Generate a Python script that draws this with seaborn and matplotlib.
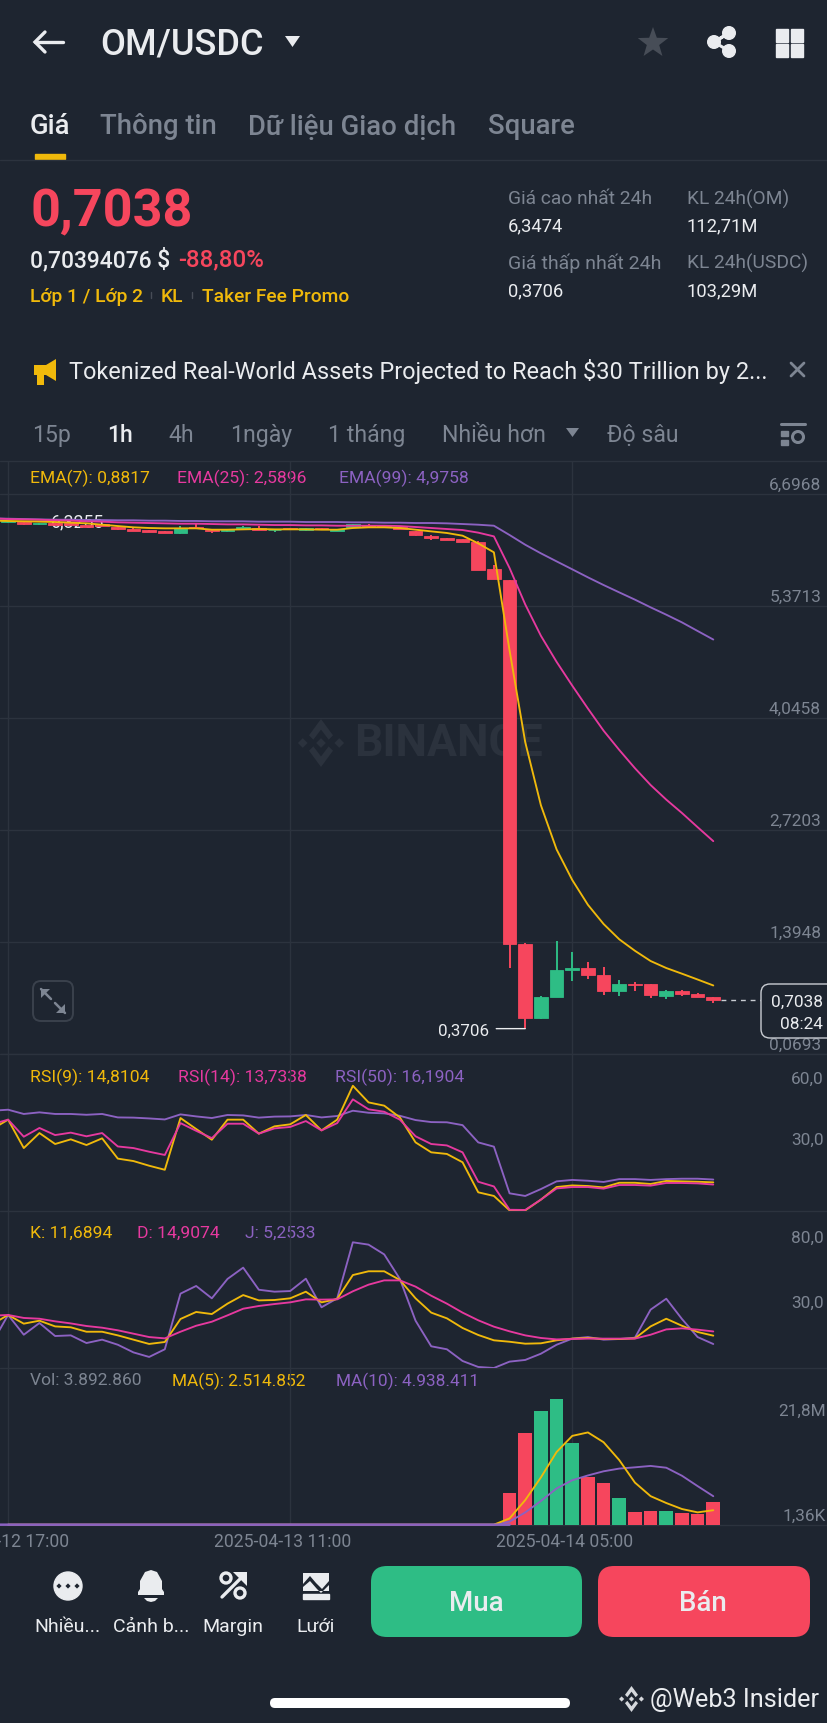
import numpy as np
import seaborn as sns
import matplotlib
matplotlib.use("Agg")
import matplotlib.pyplot as plt
from matplotlib.patches import FancyBboxPatch, Polygon, Circle, Rectangle

# hour index, -1 is the candle just off the left edge
hours = np.arange(-1, 46)
candle_hours = np.arange(0, 46)

opens = [6.363, 6.363, 6.339, 6.355, 6.355, 6.331, 6.339, 6.308, 6.280, 6.268, 6.260, 6.233, 6.308, 6.276, 6.256, 6.284,
         6.292, 6.268, 6.292, 6.268, 6.292, 6.260, 6.312, 6.335, 6.319, 6.304, 6.260, 6.197, 6.174, 6.166, 6.127, 5.811,
         5.684, 1.372, 0.497, 0.745, 1.061, 1.092, 1.005, 0.816, 0.902, 0.895, 0.760, 0.816, 0.784, 0.742]
closes = [6.379, 6.339, 6.355, 6.331, 6.331, 6.308, 6.323, 6.280, 6.264, 6.252, 6.241, 6.292, 6.292, 6.256, 6.276, 6.308,
          6.276, 6.276, 6.284, 6.292, 6.280, 6.284, 6.339, 6.304, 6.308, 6.284, 6.213, 6.174, 6.157, 6.133, 5.802, 5.689,
          1.372, 0.497, 0.745, 1.061, 1.088, 1.009, 0.816, 0.902, 0.887, 0.765, 0.820, 0.784, 0.749, 0.7038]
highs = [6.383, 6.367, 6.359, 6.359, 6.359, 6.335, 6.343, 6.312, 6.300, 6.272, 6.264, 6.323, 6.343, 6.280, 6.280, 6.315,
         6.315, 6.280, 6.296, 6.296, 6.296, 6.288, 6.343, 6.343, 6.327, 6.308, 6.265, 6.216, 6.180, 6.170, 6.140, 5.862,
         5.684, 1.388, 0.755, 1.408, 1.278, 1.156, 1.100, 0.946, 0.919, 0.902, 0.828, 0.831, 0.790, 0.749]
lows = [6.360, 6.335, 6.335, 6.327, 6.327, 6.304, 6.319, 6.276, 6.257, 6.248, 6.237, 6.229, 6.288, 6.237, 6.252, 6.280,
        6.272, 6.244, 6.280, 6.264, 6.276, 6.256, 6.308, 6.300, 6.304, 6.280, 6.205, 6.157, 6.150, 6.125, 5.800, 5.689,
        1.085, 0.3706, 0.490, 0.740, 0.938, 0.958, 0.769, 0.760, 0.820, 0.730, 0.721, 0.760, 0.740, 0.674]

ema7 = [6.383, 6.379, 6.375, 6.371, 6.367, 6.359, 6.351, 6.335, 6.319, 6.304, 6.296, 6.292, 6.292, 6.292, 6.276, 6.276,
        6.280, 6.284, 6.280, 6.280, 6.280, 6.276, 6.276, 6.296, 6.304, 6.304, 6.296, 6.276, 6.256, 6.237, 6.205, 6.114,
        6.008, 4.847, 3.761, 3.014, 2.492, 2.130, 1.836, 1.609, 1.428, 1.292, 1.171, 1.088, 1.021, 0.952, 0.8817]
ema25 = [6.410, 6.402, 6.398, 6.394, 6.387, 6.383, 6.375, 6.371, 6.363, 6.359, 6.355, 6.351, 6.347, 6.347, 6.343, 6.339,
         6.339, 6.335, 6.331, 6.331, 6.327, 6.327, 6.323, 6.323, 6.323, 6.323, 6.319, 6.308, 6.296, 6.284, 6.272, 6.241,
         6.197, 5.822, 5.391, 5.020, 4.712, 4.430, 4.159, 3.897, 3.669, 3.453, 3.254, 3.081, 2.923, 2.755, 2.5896]
ema99 = [6.410, 6.406, 6.402, 6.398, 6.394, 6.394, 6.390, 6.390, 6.387, 6.387, 6.383, 6.383, 6.379, 6.379, 6.375, 6.375,
         6.375, 6.371, 6.371, 6.371, 6.367, 6.367, 6.367, 6.363, 6.363, 6.359, 6.359, 6.355, 6.355, 6.351, 6.343, 6.335,
         6.323, 6.213, 6.098, 5.996, 5.901, 5.807, 5.712, 5.621, 5.534, 5.448, 5.357, 5.270, 5.179, 5.077, 4.9758]

rsi9 = [41.1, 45.7, 31.7, 39.1, 33.7, 36.0, 33.2, 36.5, 26.5, 25.3, 23.0, 21.0, 46.5, 41.1, 35.8, 45.7, 45.7, 38.8, 42.4,
        43.4, 48.0, 40.4, 45.7, 62.4, 54.2, 52.6, 46.8, 34.5, 29.6, 28.8, 24.7, 9.9, 8.1, 1.0, 1.0, 6.3, 12.5, 13.3, 13.0,
        12.3, 14.6, 14.6, 14.0, 15.5, 15.3, 15.1, 14.81]
rsi14 = [43.5, 45.7, 37.3, 41.6, 38.1, 39.3, 37.5, 39.1, 32.5, 31.7, 29.9, 28.3, 44.0, 40.2, 36.6, 43.7, 43.7, 38.8, 41.4,
         42.1, 45.0, 40.4, 44.0, 55.7, 50.8, 49.6, 45.7, 37.5, 33.7, 33.0, 29.6, 15.1, 12.8, 1.3, 1.2, 6.3, 11.8, 12.5, 12.5,
         11.7, 13.5, 13.5, 13.2, 14.5, 14.5, 14.3, 13.73]
rsi50 = [50.1, 50.6, 48.5, 49.3, 48.5, 48.5, 48.1, 48.5, 46.8, 46.7, 46.3, 45.8, 48.3, 47.3, 46.5, 48.0, 47.8, 46.7, 47.2,
         47.3, 48.0, 46.8, 47.5, 50.1, 49.1, 48.8, 47.6, 45.5, 44.5, 44.4, 43.0, 34.5, 32.4, 9.4, 8.1, 11.5, 15.3, 16.0, 15.6,
         15.0, 16.4, 16.4, 16.0, 16.4, 16.6, 16.6, 16.19]

kdj_k = [20.6, 27.6, 20.9, 23.2, 18.8, 18.1, 14.7, 14.7, 11.9, 8.6, 5.3, 6.8, 24.5, 29.9, 28.3, 36.3, 42.9, 38.8, 39.1, 40.4,
         45.5, 37.3, 39.9, 58.3, 61.2, 61.2, 54.5, 40.4, 29.4, 25.0, 17.6, 12.2, 8.1, 7.0, 5.5, 5.8, 8.1, 9.4, 9.9, 9.1, 9.1,
         9.6, 18.8, 24.7, 19.3, 14.5, 11.69]
kdj_d = [27.0, 27.6, 25.3, 24.7, 22.7, 21.1, 19.1, 17.8, 15.8, 13.2, 10.6, 9.6, 14.7, 19.3, 22.4, 27.3, 32.4, 34.5, 36.0, 37.3,
         39.6, 39.4, 39.6, 45.8, 50.9, 54.2, 54.2, 49.4, 42.4, 36.3, 29.4, 23.5, 18.6, 15.0, 11.9, 9.9, 8.8, 9.1, 9.4, 9.4, 9.4,
         9.4, 12.4, 16.5, 17.3, 16.3, 14.91]
kdj_j = [6.5, 27.6, 12.4, 21.4, 11.4, 11.9, 6.0, 8.6, 4.7, -1.2, -4.7, 1.2, 44.0, 49.9, 40.4, 55.3, 64.0, 47.0, 45.5, 46.0,
         55.5, 33.5, 40.4, 83.5, 81.7, 74.2, 55.3, 23.2, 3.5, 1.2, -7.8, -12.4, -13.2, -8.3, -7.0, -2.2, 4.7, 9.4, 10.6, 8.6,
         9.1, 10.1, 31.7, 40.1, 24.5, 10.6, 5.25]

# volume in millions
volume = [0.004, 0.003, 0.004, 0.003, 0.003, 0.004, 0.003, 0.004, 0.003, 0.003, 0.004, 0.004, 0.003, 0.003, 0.004, 0.003,
          0.003, 0.003, 0.004, 0.003, 0.003, 0.003, 0.005, 0.004, 0.004, 0.004, 0.006, 0.006, 0.006, 0.006, 0.010, 0.012,
          5.43, 15.9, 19.8, 21.8, 14.2, 8.27, 7.28, 4.68, 2.14, 2.37, 2.31, 2.08, 1.79, 3.89]
ma5 = [0.004, 0.004, 0.004, 0.004, 0.004, 0.004, 0.004, 0.004, 0.004, 0.004, 0.004, 0.004, 0.004, 0.004, 0.004, 0.004,
       0.004, 0.004, 0.004, 0.004, 0.004, 0.004, 0.004, 0.004, 0.004, 0.004, 0.004, 0.005, 0.005, 0.005, 0.006, 0.007,
       1.09, 4.27, 8.2, 12.6, 15.4, 16.0, 14.3, 11.2, 7.3, 4.95, 3.76, 2.72, 2.14, 2.51]
ma10 = [0.004, 0.004, 0.004, 0.004, 0.004, 0.004, 0.004, 0.004, 0.004, 0.004, 0.004, 0.004, 0.004, 0.004, 0.004, 0.004,
        0.004, 0.004, 0.004, 0.004, 0.004, 0.004, 0.004, 0.004, 0.004, 0.004, 0.004, 0.004, 0.004, 0.005, 0.005, 0.005,
        0.54, 2.13, 4.11, 6.29, 7.71, 8.54, 9.26, 9.73, 9.95, 10.19, 9.88, 8.49, 6.69, 4.94]

date_hours = [0, 18, 36]
date_labels = ["2025-04-12 17:00", "2025-04-13 11:00", "2025-04-14 05:00"]
price_ticks = [6.6968, 5.3713, 4.0458, 2.7203, 1.3948, 0.0693]
price_labels = ["6,6968", "5,3713", "4,0458", "2,7203", "1,3948", "0,0693"]
last_price = 0.7038
low_price = 0.3706
high_price = 6.3255

BG = "#1e2530"
GRID = "#2c333e"
RED = "#f6465d"
GREEN = "#2ebd85"
YELLOW = "#f0b90b"
PINK = "#e6399f"
PURPLE = "#8c62c2"
GRAY = "#7d8592"
WHITE = "#eaecef"
W, H = 828, 1724

sns.set_theme(style="dark")
plt.rcParams["font.family"] = ["Roboto", "DejaVu Sans"]
plt.rcParams["axes.unicode_minus"] = False

fig = plt.figure(figsize=(W / 100, H / 100), dpi=100, facecolor=BG)

ui = fig.add_axes([0, 0, 1, 1], zorder=0)
ui.set_xlim(0, W)
ui.set_ylim(H, 0)
ui.axis("off")
top = fig.add_axes([0, 0, 1, 1], zorder=9)
top.set_xlim(0, W)
top.set_ylim(H, 0)
top.axis("off")


def label(x, y, s, color=GRAY, size=13, ha="left", weight="normal", ax=ui):
    ax.text(x, y, s, color=color, fontsize=size, ha=ha, va="center", fontweight=weight)


def box(x0, y0, x1, y1, r, color, ax=ui, edge="none", lw=0):
    ax.add_patch(FancyBboxPatch((x0, y0), x1 - x0, y1 - y0, boxstyle=f"round,pad=0,rounding_size={r}",
                                facecolor=color, edgecolor=edge, linewidth=lw))


def poly(pts, color, ax=ui):
    ax.add_patch(Polygon(pts, closed=True, facecolor=color, edgecolor="none"))


def stroke(xs, ys, color, lw=2, ax=ui):
    ax.plot(xs, ys, color=color, lw=lw, solid_capstyle="round", solid_joinstyle="miter")


def logo(cx, cy, s, color, ax=ui):
    # binance mark made from the small square and two chevrons
    d = s * 0.2
    for ox, oy in [(0, 0), (-s * 0.76, 0), (s * 0.76, 0)]:
        poly([(cx + ox - d, cy + oy), (cx + ox, cy + oy - d), (cx + ox + d, cy + oy), (cx + ox, cy + oy + d)], color, ax)
    t = s * 0.2
    poly([(cx - s * 0.5, cy - s * 0.32), (cx, cy - s), (cx + s * 0.5, cy - s * 0.32), (cx + s * 0.32, cy - s * 0.14),
          (cx, cy - s + 2.2 * t), (cx - s * 0.32, cy - s * 0.14)], color, ax)
    poly([(cx - s * 0.5, cy + s * 0.32), (cx, cy + s), (cx + s * 0.5, cy + s * 0.32), (cx + s * 0.32, cy + s * 0.14),
          (cx, cy + s - 2.2 * t), (cx - s * 0.32, cy + s * 0.14)], color, ax)


def panel(y0, y1, ylim):
    ax = fig.add_axes([0, 1 - y1 / H, 1, (y1 - y0) / H], zorder=2)
    ax.patch.set_alpha(0)
    ax.set_ylim(*ylim)
    for s in ax.spines.values():
        s.set_visible(False)
    return ax


def finish(ax):
    ax.set_xlim(-0.517, 52.32)
    ax.set_xticks(date_hours)
    ax.set_xticklabels([])
    ax.set_xlabel("")
    ax.set_ylabel("")
    ax.tick_params(length=0, labelleft=False, labelbottom=False)
    ax.xaxis.grid(True, color=GRID, lw=1)
    ax.set_axisbelow(True)


def axis_label(ax, value, text, dy, right=5):
    ax.annotate(text, (1, value), xycoords=("axes fraction", "data"), xytext=(-right, dy), textcoords="offset points",
                ha="right", va="center", color=GRAY, fontsize=12.4)


# header
stroke([63, 35], [43, 43], WHITE, 2.4)
stroke([45, 35, 45], [33, 43, 53], WHITE, 2.4)
label(100, 45, "OM/USDC", WHITE, 26, weight="medium")
poly([(285, 37), (300, 37), (292.5, 48)], WHITE)
star = [(653 + r * np.sin(a), 44 - r * np.cos(a)) for a, r in zip(np.arange(10) * np.pi / 5, [16, 6.5] * 5)]
poly(star, "#474d57")
stroke([714, 729, 714, 729], [43, 34, 43, 52], WHITE, 2.2)
for cx, cy in [(714, 43), (729, 34), (729, 52)]:
    ui.add_patch(Circle((cx, cy), 6.3, color=WHITE))
for x0, y0 in [(776, 30), (791, 30), (776, 45), (791, 45)]:
    ui.add_patch(Rectangle((x0, y0), 12.5, 12.5, color=WHITE))

# tabs
label(30, 127, "Giá", WHITE, 19.8, weight="medium")
label(100, 127, "Thông tin", GRAY, 19.8, weight="medium")
label(248, 127, "Dữ liệu Giao dịch", GRAY, 19.8, weight="medium")
label(488, 127, "Square", GRAY, 19.8, weight="medium")
ui.add_patch(Rectangle((35, 155), 30, 5, color=YELLOW))
stroke([0, W], [160.5, 160.5], GRID, 1)

# price block
label(31, 212, "0,7038", RED, 37.6, weight="bold")
label(30, 260, "0,70394076 $", WHITE, 16.4, weight="medium")
label(178, 260, "-88,80%", RED, 17.4, weight="medium")
label(30, 297, "Lớp 1 / Lớp 2", YELLOW, 13.9, weight="medium")
label(161, 297, "KL", YELLOW, 13.9, weight="medium")
label(202, 297, "Taker Fee Promo", YELLOW, 13.9, weight="medium")
stroke([151.5, 151.5], [293, 299], "#474d57", 1)
stroke([192.5, 192.5], [293, 299], "#474d57", 1)
label(508, 199, "Giá cao nhất 24h", GRAY, 13.9)
label(508, 226, "6,3474", WHITE, 13.2)
label(508, 263, "Giá thấp nhất 24h", GRAY, 14)
label(508, 291, "0,3706", WHITE, 13.2)
label(687, 199, "KL 24h(OM)", GRAY, 13.8)
label(687, 226, "112,71M", WHITE, 13.2)
label(687, 263, "KL 24h(USDC)", GRAY, 13.8)
label(687, 291, "103,29M", WHITE, 13.2)

# news banner
poly([(34, 366), (46, 366), (56, 360), (56, 382), (46, 376), (34, 376)], YELLOW)
poly([(37, 376), (44, 376), (44, 386), (37, 386)], YELLOW)
label(69, 372, "Tokenized Real-World Assets Projected to Reach $30 Trillion by 2...", WHITE, 16.9)
stroke([791, 804], [364, 377], GRAY, 2)
stroke([791, 804], [377, 364], GRAY, 2)

# interval row
for x, s, c in [(32, "15p", GRAY), (107, "1h", WHITE), (168, "4h", GRAY), (230, "1ngày", GRAY), (328, "1 tháng", GRAY),
                (442, "Nhiều hơn", GRAY), (607, "Độ sâu", GRAY)]:
    label(x, 436, s, c, 16.6, weight="medium" if c == WHITE else "normal")
poly([(566, 429), (579, 429), (572.5, 438)], GRAY)
stroke([781, 805], [425, 425], GRAY, 2.2)
for y0 in [432, 441]:
    ui.add_patch(Rectangle((781, y0), 7, 4.5, color=GRAY))
ui.add_patch(Circle((798, 438), 5.5, facecolor="none", edgecolor=GRAY, lw=2.2))

# panel borders
for y in [462, 1055, 1211.7, 1369, 1525.7]:
    stroke([0, W], [y, y], GRID, 1)

# watermark
logo(321, 744, 24, "#2b323d")
ui.text(354, 744, "BINANCE", color="#2b323d", fontsize=32, fontweight="bold", ha="left", va="center")

# price panel
ax_price = panel(462, 1055.1, (0.0693, 7.089))
is_up = np.array(closes) >= np.array(opens)
colors = [GREEN if up else RED for up in is_up]
ax_price.annotate("6,3255", (2.75, high_price), xytext=(0, 3), textcoords="offset points", color=WHITE, fontsize=12.8,
                  ha="left", va="center", zorder=1)
ax_price.vlines(candle_hours, lows, highs, colors=colors, lw=1.4, zorder=2)
ax_price.bar(candle_hours, np.array(closes) - np.array(opens), bottom=opens, width=0.87, color=colors, edgecolor=colors,
             linewidth=0.6, zorder=3)
for series, c in [(ema99, PURPLE), (ema25, PINK), (ema7, YELLOW)]:
    sns.lineplot(x=hours, y=series, color=c, lw=1.35, errorbar=None, ax=ax_price, zorder=4)
ax_price.plot([45.5, 50], [last_price, last_price], color="#c9cdd3", lw=1, ls=(0, (3.5, 3.5)), zorder=4)
ax_price.set_yticks(price_ticks)
ax_price.yaxis.grid(True, color=GRID, lw=1)
finish(ax_price)
for v, t in zip(price_ticks, price_labels):
    axis_label(ax_price, v, t, 7)
label(30, 478, "EMA(7): 0,8817", YELLOW, 12.6)
label(177, 478, "EMA(25): 2,5896", PINK, 12.6)
label(339, 478, "EMA(99): 4,9758", PURPLE, 12.6)

# 24h low marker
ax_price.annotate("0,3706", (33, low_price), xytext=(-26, -1), textcoords="offset points", color=WHITE, fontsize=12.2,
                  ha="right", va="center")
ax_price.annotate("", (33, low_price), xytext=(31.15, low_price), arrowprops=dict(arrowstyle="-", color=WHITE, lw=1, shrinkA=0, shrinkB=0))

# expand button
box(33, 982, 73, 1022, 8, "none", edge="#3a414c", lw=1.4)
stroke([41, 51], [990, 1000], GRAY, 1.8)
stroke([55, 65], [1004, 1014], GRAY, 1.8)
poly([(41, 990), (50, 990), (41, 999)], GRAY)
poly([(65, 1014), (56, 1014), (65, 1005)], GRAY)

# RSI panel
ax_rsi = panel(1055.1, 1211.7, (0.84, 78.0))
for series, c in [(rsi50, PURPLE), (rsi9, YELLOW), (rsi14, PINK)]:
    sns.lineplot(x=hours, y=series, color=c, lw=1.35, errorbar=None, ax=ax_rsi)
finish(ax_rsi)
axis_label(ax_rsi, 60, "60,0", 8.5, 3)
axis_label(ax_rsi, 30, "30,0", 8.5, 3)
label(30, 1077, "RSI(9): 14,8104", YELLOW, 12.6)
label(178, 1077, "RSI(14): 13,7338", PINK, 12.6)
label(335, 1077, "RSI(50): 16,1904", PURPLE, 12.6)

# KDJ panel
ax_kdj = panel(1211.7, 1369, (-13.2, 107.8))
for series, c in [(kdj_j, PURPLE), (kdj_k, YELLOW), (kdj_d, PINK)]:
    sns.lineplot(x=hours, y=series, color=c, lw=1.35, errorbar=None, ax=ax_kdj)
finish(ax_kdj)
axis_label(ax_kdj, 80, "80,0", 6.5, 3)
axis_label(ax_kdj, 30, "30,0", 6.5, 3)
label(30, 1233.5, "K: 11,6894", YELLOW, 12.6)
label(137, 1233.5, "D: 14,9074", PINK, 12.6)
label(245, 1233.5, "J: 5,2533", PURPLE, 12.6)

# volume panel
ax_vol = panel(1369, 1527, (-0.225, 27.17))
direction = ["up" if up else "down" for up in is_up]
sns.barplot(x=candle_hours, y=volume, hue=direction, palette={"up": GREEN, "down": RED}, native_scale=True, width=0.87,
            dodge=False, legend=False, saturation=1, errorbar=None, linewidth=0, ax=ax_vol)
sns.lineplot(x=candle_hours, y=ma10, color=PURPLE, lw=1.35, errorbar=None, ax=ax_vol)
sns.lineplot(x=candle_hours, y=ma5, color=YELLOW, lw=1.35, errorbar=None, ax=ax_vol)
ax_vol.plot([-0.517, 32], [ma10[0], ma10[31]], color=PURPLE, lw=1.8, zorder=5)
finish(ax_vol)
axis_label(ax_vol, 21.8, "21,8M", -8.5, 1.5)
axis_label(ax_vol, 0.00136, "1,36K", 7, 1.5)
label(30, 1381, "Vol: 3.892.860", GRAY, 12.5)
label(172, 1381, "MA(5): 2.514.852", YELLOW, 12.4)
label(336, 1381, "MA(10): 4.938.411", PURPLE, 12.4)

# date labels sit a little left of their grid lines
for h, t in zip(date_hours, date_labels):
    ax_vol.annotate(t, (h, 0), xycoords=("data", "axes fraction"), xytext=(-5.5, -10.5), textcoords="offset points",
                    ha="center", va="center", color=GRAY, fontsize=12.7)

# tag on the last price
box(761, 985, 840, 1039, 9, BG, ax=top, edge="#c9cdd3", lw=1)
label(823, 1002, "0,7038", WHITE, 12.4, ha="right", ax=top)
label(823, 1025, "08:24", WHITE, 12.4, ha="right", ax=top)

# bottom bar
ui.add_patch(Circle((68, 1587), 14, color=WHITE))
for dx in [-9, 0, 9]:
    poly([(68 + dx - 2.6, 1587), (68 + dx, 1584.4), (68 + dx + 2.6, 1587), (68 + dx, 1589.6)], BG)
poly([(138, 1593), (140, 1590), (140, 1582), (145, 1573), (151, 1571), (157, 1573), (162, 1582), (162, 1590), (164, 1593),
      (164, 1596), (138, 1596)], WHITE)
poly([(144, 1599), (158, 1599), (155, 1602), (151, 1603), (147, 1602)], WHITE)
stroke([222, 244], [1598, 1576], WHITE, 2.4)
poly([(233, 1573), (247, 1573), (247, 1587)], WHITE)
ui.add_patch(Circle((226, 1579), 5, facecolor="none", edgecolor=WHITE, lw=2.4))
ui.add_patch(Circle((240, 1594), 5, facecolor="none", edgecolor=WHITE, lw=2.4))
poly([(303, 1574), (329, 1574), (329, 1582), (322, 1590), (316, 1584), (310, 1577), (303, 1585)], WHITE)
poly([(303, 1588), (310, 1582), (317, 1590), (321, 1594), (329, 1586), (329, 1592), (303, 1592)], WHITE)
ui.add_patch(Rectangle((303, 1595), 26, 5, color=WHITE))
for x, s in [(68, "Nhiều..."), (151, "Cảnh b..."), (233, "Margin"), (316, "Lưới")]:
    label(x, 1627, s, WHITE, 14, ha="center")
box(371, 1567, 582, 1638, 16, GREEN)
box(598, 1567, 810, 1638, 16, RED)
label(476, 1604, "Mua", WHITE, 20, ha="center", weight="medium")
label(703, 1604, "Bán", WHITE, 20, ha="center", weight="medium")
box(270, 1699, 570, 1709, 5, "white")
logo(631.5, 1700, 13, "#d5d8dc")
label(650, 1700, "@Web3 Insider", WHITE, 18.2)

fig.savefig("out.png", dpi=100, facecolor=BG)
